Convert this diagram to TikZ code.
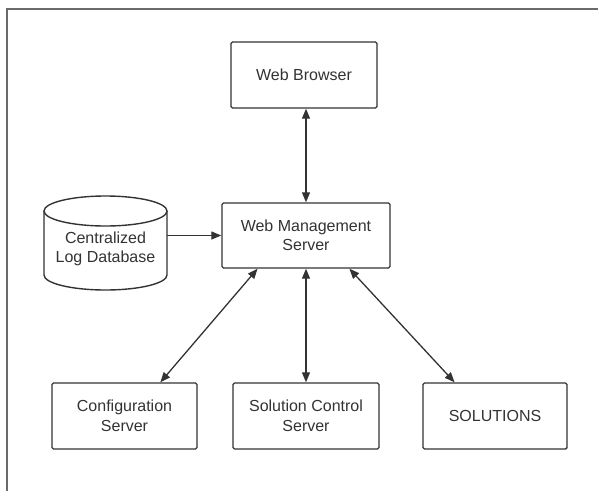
\documentclass[tikz,border=0pt]{standalone}
\usepackage{fontspec}
\setmainfont{Liberation Sans}
\usetikzlibrary{arrows.meta,calc}
\definecolor{ink}{HTML}{333333}
\definecolor{frame}{HTML}{6A6A6A}
\begin{document}
\begin{tikzpicture}[x=1pt,y=-1pt,
  box/.style={draw=ink,line width=1.4pt,rounded corners=1.5pt,inner sep=0pt,align=center,
    text=ink,font=\fontsize{16}{19.5}\selectfont},
  conn/.style={draw=ink,line width=1.3pt,{Triangle[length=10pt,width=8pt]}-{Triangle[length=10pt,width=8pt]}},
  oneway/.style={draw=ink,line width=1.3pt,-{Triangle[length=10pt,width=8pt]}}]
\useasboundingbox (0,0) rectangle (598,491);
\fill[white] (0,0) rectangle (598,491);
% outer frame (left and top edges only)
\draw[frame,line width=2.2pt] (7,491) -- (7,9) -- (598,9);
% nodes
\node[box,minimum width=146pt,minimum height=66pt] (wb) at (304,75) {Web Browser};
\node[box,minimum width=168pt,minimum height=65pt] (wms) at (306,235.5) {Web Management\\Server};
\node[box,minimum width=145pt,minimum height=66pt] (cfg) at (124.5,416) {Configuration\\Server};
\node[box,minimum width=146pt,minimum height=66pt] (scs) at (306,416) {Solution Control\\Server};
\node[box,minimum width=144pt,minimum height=66pt] (sol) at (495,416) {SOLUTIONS};
% cylinder database
\draw[ink,line width=1.4pt] (44,211) -- (44,275) arc[start angle=180,end angle=0,x radius=61.5,y radius=15] -- (167,211);
\draw[ink,line width=1.4pt] (105.5,211) ellipse[x radius=61.5,y radius=15];
\node[inner sep=0pt,minimum width=123pt,minimum height=62pt,align=center,text=ink,
  font=\fontsize{16}{19.5}\selectfont] (db) at (105.5,249) {Centralized\\Log Database};
% connectors
\draw[conn] (wb.south -| wms.north) -- (wms.north);
\draw[oneway] (db.east |- wms.west) -- (wms.west);
\draw[conn] ($(wms.south west)!0.214!(wms.south east)$) -- ($(cfg.north west)!0.745!(cfg.north east)$);
\draw[conn] (wms.south) -- (scs.north);
\draw[conn] ($(wms.south west)!0.756!(wms.south east)$) -- ($(sol.north west)!0.222!(sol.north east)$);
\end{tikzpicture}
\end{document}
